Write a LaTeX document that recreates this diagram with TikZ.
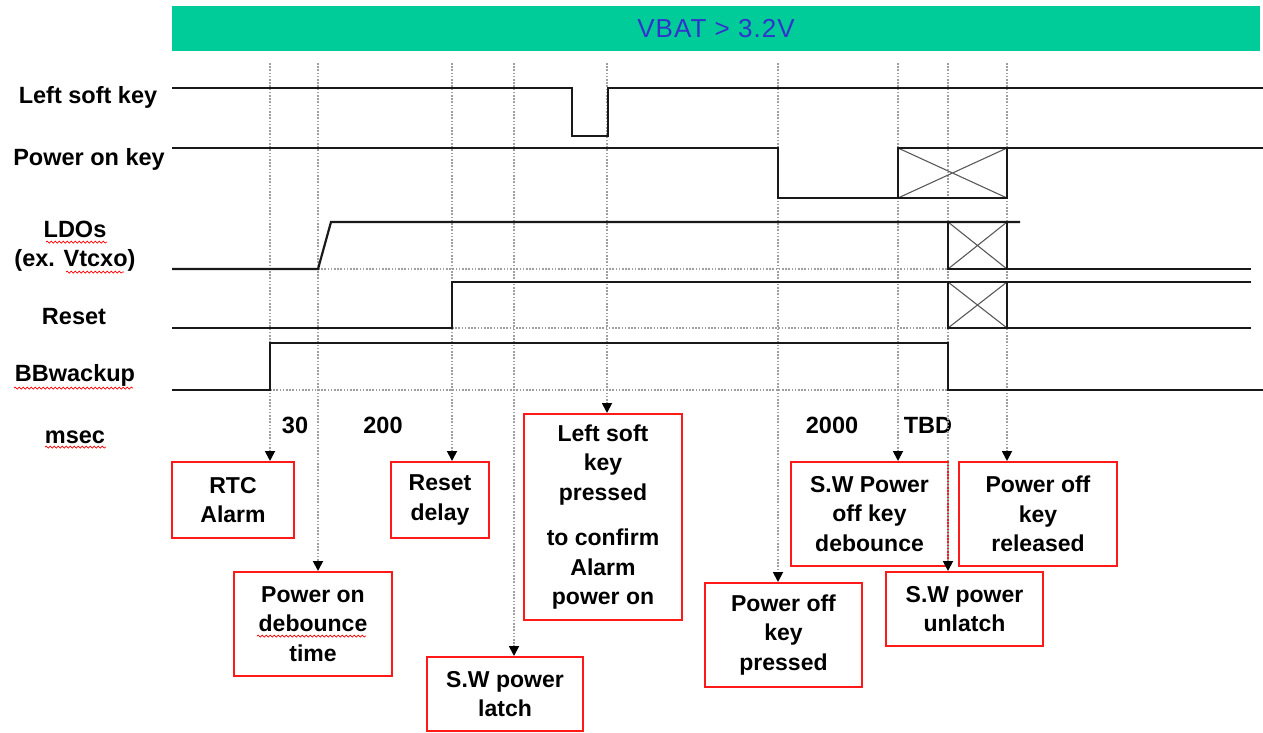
\documentclass[tikz,border=0pt]{standalone}
\usepackage{fontspec}
\setmainfont{Liberation Sans}
\usetikzlibrary{arrows.meta,decorations.pathmorphing}
\definecolor{bannerc}{RGB}{0,204,153}
\definecolor{bantext}{RGB}{51,51,204}
\definecolor{sigc}{RGB}{25,25,25}
\definecolor{boxred}{RGB}{255,25,25}
\begin{document}
\begin{tikzpicture}[x=1pt,y=-1pt,
  sigline/.style={draw=sigc, line width=2.2pt, line join=miter},
  xline/.style={draw=gray!70!black, line width=1.1pt},
  gridline/.style={draw=gray!75, line width=1.8pt, dash pattern=on 1.6pt off 1.6pt},
  dotarrow/.style={gridline, -{Triangle[width=10pt,length=10pt,color=black]}},
  lbl/.style={font=\fontsize{23.5}{29}\selectfont\bfseries, inner sep=0pt, align=center},
  redbox/.style={draw=boxred, line width=2pt, align=center, inner sep=0pt, text=black,
     font=\fontsize{23}{29.5}\selectfont\bfseries},
  squig/.style={draw=red, line width=0.7pt, decorate, decoration={snake, amplitude=1pt, segment length=4pt}}
]
\useasboundingbox (0,0) rectangle (1263,732);

% banner
\node[fill=bannerc, minimum width=1088pt, minimum height=45pt, inner sep=0pt, text=bantext,
  font=\fontsize{26}{30}\selectfont\addfontfeature{LetterSpace=4}] (vbat) at (716,28.5) {VBAT > 3.2V};

% signal labels
\node[lbl] (lsk) at (88,97) {Left soft key};
\node[lbl] (pok) at (89,159) {Power on key};
\node[lbl] (ldo) at (75,246) {LDOs\\(ex. Vtcxo)};
\node[lbl] (rst) at (74,317) {Reset};
\node[lbl] (bbw) at (75,375) {BBwackup};
\node[lbl] (ms) at (75,437) {msec};

% numbers
\node[lbl] (n30) at (295,425) {30};
\node[lbl] (n200) at (383,425) {200};
\node[lbl] (n2000) at (832,425) {2000};
\node[lbl] (ntbd) at (928,425) {TBD};

% event boxes
\node[redbox, minimum width=122pt, minimum height=76pt] (rtc) at (233,500) {RTC\\Alarm};
\node[redbox, minimum width=158pt, minimum height=104pt] (pod) at (313,624) {Power on\\debounce\\time};
\node[redbox, minimum width=98pt, minimum height=76pt] (rsd) at (440,500) {Reset\\delay};
\node[redbox, minimum width=156pt, minimum height=74pt] (lat) at (505,694) {S.W power\\latch};
\node[redbox, minimum width=158pt, minimum height=206pt] (lsp) at (603,517) {Left soft\\key\\pressed\\[16pt]to confirm\\Alarm\\power on};
\node[redbox, minimum width=157pt, minimum height=104pt] (pkp) at (783.5,635) {Power off\\key\\pressed};
\node[redbox, minimum width=157pt, minimum height=104pt] (swd) at (869.5,514) {S.W Power\\off key\\debounce};
\node[redbox, minimum width=157pt, minimum height=74pt] (unl) at (964.5,609) {S.W power\\unlatch};
\node[redbox, minimum width=158pt, minimum height=104pt] (pkr) at (1038,514) {Power off\\key\\released};

% squiggly underlines
\draw[squig] (46,242) -- (107,242);
\draw[squig] (66,272) -- (124,272);
\draw[squig] (14,388) -- (133,388);
\draw[squig] (45,447) -- (106,447);
\draw[squig] (257,636) -- (366,636);

% dotted horizontals
\draw[gridline] (318,269) -- (948,269);
\draw[gridline] (452,328) -- (948,328);
\draw[gridline] (270,390) -- (948,390);

% dotted verticals with arrows
\coordinate (v1) at (270,63);
\coordinate (v2) at (318,63);
\coordinate (v3) at (452,63);
\coordinate (v4) at (514,63);
\coordinate (v5) at (607,63);
\coordinate (v6) at (778,63);
\coordinate (v7) at (898,63);
\coordinate (v8) at (948,63);
\coordinate (v9) at (1007,63);
\draw[dotarrow] (v1) -- (v1 |- rtc.north);
\draw[dotarrow] (v2) -- (v2 |- pod.north);
\draw[dotarrow] (v3) -- (v3 |- rsd.north);
\draw[dotarrow] (v4) -- (v4 |- lat.north);
\draw[dotarrow] (v5) -- (v5 |- lsp.north);
\draw[dotarrow] (v6) -- (v6 |- pkp.north);
\draw[dotarrow] (v7) -- (v7 |- swd.north);
\draw[dotarrow] (v8) -- (v8 |- unl.north);
\draw[dotarrow] (v9) -- (v9 |- pkr.north);

% Left soft key
\draw[sigline] (172,88) -- (572,88) -- (572,136) -- (608,136) -- (608,88) -- (1263,88);
% Power on key
\draw[xline] (898,148) -- (1007,198) (898,198) -- (1007,148);
\draw[sigline] (172,148) -- (778,148) -- (778,198) -- (1007,198) -- (1007,148) -- (898,148) -- (898,198);
\draw[sigline] (1007,148) -- (1263,148);
% LDOs
\draw[xline] (948,222) -- (1007,269) (948,269) -- (1007,222);
\draw[sigline] (172,269) -- (318,269) -- (331,222) -- (1020,222);
\draw[sigline] (948,222) rectangle (1007,269);
\draw[sigline] (1007,269) -- (1251,269);
% Reset
\draw[xline] (948,282) -- (1007,328) (948,328) -- (1007,282);
\draw[sigline] (172,328) -- (452,328) -- (452,282) -- (1251,282);
\draw[sigline] (948,282) rectangle (1007,328);
\draw[sigline] (1007,328) -- (1251,328);
% BBwackup
\draw[sigline] (172,390) -- (270,390) -- (270,343) -- (948,343) -- (948,390) -- (1263,390);
\end{tikzpicture}
\end{document}
